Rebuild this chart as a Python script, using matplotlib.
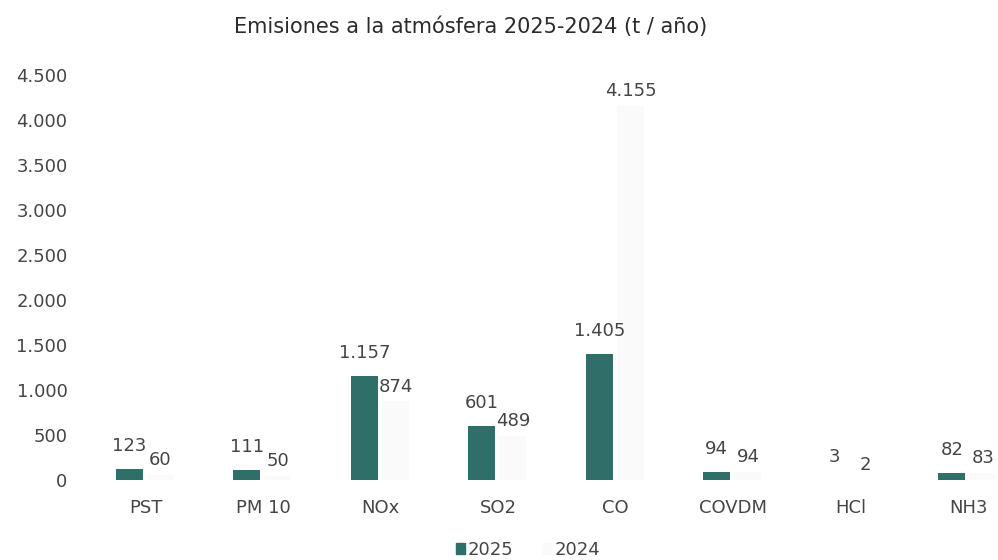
import matplotlib.pyplot as plt
import numpy as np
from matplotlib.patches import Patch
from matplotlib.ticker import FuncFormatter

# -------- Data --------
categories = ["PST", "PM 10", "NOx", "SO2", "CO", "COVDM", "HCl", "NH3"]
values_2025 = [123, 111, 1157, 601, 1405, 94, 3, 82]
values_2024 = [60, 50, 874, 489, 4155, 94, 2, 83]
series_names = ["2025", "2024"]
y_ticks = [0, 500, 1000, 1500, 2000, 2500, 3000, 3500, 4000, 4500]
title = "Emisiones a la atmósfera 2025-2024 (t / año)"

# -------- Style --------
color_2025 = "#2f6f69"
color_2024 = "#fafafa"  # almost white in the original
text_color = "#454545"
bar_w = 0.23


def thousands(v, pos=None):
    return f"{int(round(v)):,}".replace(",", ".")


def main():
    plt.rcParams['font.family'] = ['DejaVu Sans']
    fig = plt.figure(figsize=(9.98, 5.6), dpi=100)
    ax = fig.add_axes([87 / 998, 80 / 560, 911 / 998, 405 / 560])

    x = np.arange(len(categories))
    b1 = ax.bar(x - 0.14, values_2025, bar_w, color=color_2025)
    b2 = ax.bar(x + 0.125, values_2024, bar_w, color=color_2024)

    for rect, v in zip(b1, values_2025):
        ax.annotate(thousands(v), (rect.get_x() + rect.get_width() / 2, rect.get_height()),
                    xytext=(0, 10), textcoords='offset points', ha='center', va='bottom',
                    fontsize=13, color=text_color)
    for rect, v in zip(b2, values_2024):
        ax.annotate(thousands(v), (rect.get_x() + rect.get_width() / 2, rect.get_height()),
                    xytext=(0, 4), textcoords='offset points', ha='center', va='bottom',
                    fontsize=13, color=text_color)

    ax.set_xlim(-0.5, -0.5 + 911 / 117.5)
    ax.set_ylim(0, 4500)
    ax.set_yticks(y_ticks)
    ax.yaxis.set_major_formatter(FuncFormatter(thousands))
    ax.set_xticks(x)
    ax.set_xticklabels(categories)
    ax.tick_params(axis='y', length=0, pad=14, labelsize=13, labelcolor=text_color)
    ax.tick_params(axis='x', length=0, pad=14, labelsize=13, labelcolor=text_color)
    for s in ax.spines.values():
        s.set_visible(False)

    fig.text(471 / 998, 1 - 33 / 560, title, ha='center', va='baseline',
             fontsize=15, color="#2b2b2b")

    handles = [Patch(color=color_2025), Patch(color=color_2024)]
    fig.legend(handles, series_names, loc='center', bbox_to_anchor=(528 / 998, 1 - 550 / 560),
               ncol=2, frameon=False, fontsize=13, handlelength=0.5, handleheight=0.5,
               handletextpad=0.15, columnspacing=1.6, labelcolor=text_color)

    fig.savefig("out.png", dpi=100)


if __name__ == "__main__":
    main()
